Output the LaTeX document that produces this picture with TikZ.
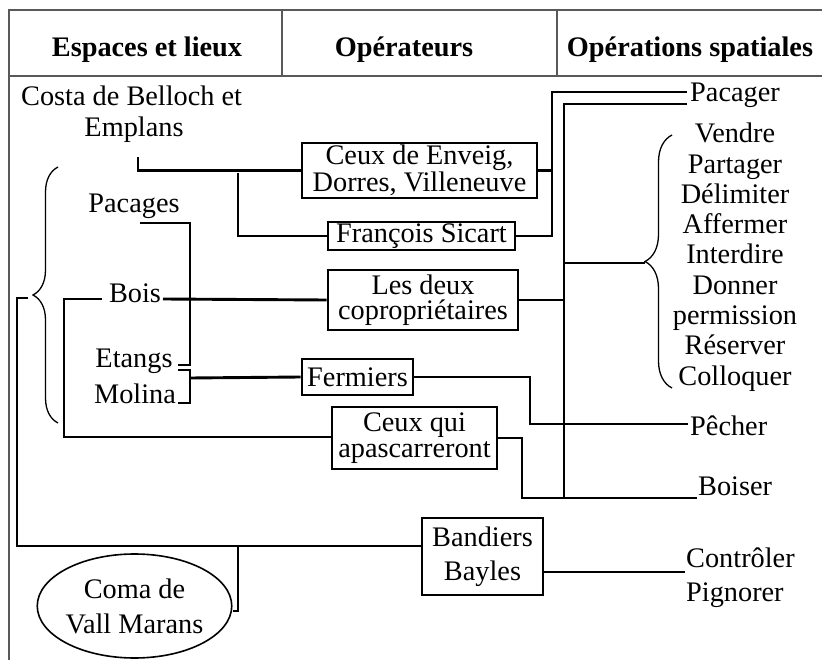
\documentclass[tikz,border=0pt]{standalone}
\usepackage{fontspec}
\setmainfont{Liberation Serif}
\usetikzlibrary{decorations.pathreplacing,shapes.geometric}
\begin{document}
\begin{tikzpicture}[x=1pt,y=-1pt,
  conn/.style={line width=2.9pt},
  box/.style={draw, line width=2.9pt, inner sep=0pt, align=center, font=\fontsize{28.3}{25.5}\selectfont},
  lbl/.style={inner sep=0pt, font=\fontsize{28.3}{28}\selectfont},
  hdr/.style={inner sep=0pt, anchor=base, font=\fontsize{28.3}{28}\selectfont\bfseries},
  rulel/.style={draw=black!65, line width=1.6pt},
  brc/.style={decorate, decoration={brace, amplitude=#1}, line width=1.3pt}]
\useasboundingbox (0,0) rectangle (822,660);
\fill[white] (0,0) rectangle (822,660);
% table frame
\draw[rulel] (822,10) -- (9,10) -- (9,660);
\draw[rulel] (9,76) -- (822,76);
\draw[rulel] (282,10) -- (282,76);
\draw[rulel] (557,10) -- (557,76);
\node[hdr] (h1) at (147,57) {Espaces et lieux};
\node[hdr] (h2) at (404,57) {Opérateurs};
\node[hdr] (h3) at (690,57) {Opérations spatiales};
% left labels
\node[lbl, anchor=base west] (costa) at (21,106) {Costa de Belloch et};
\node[lbl, anchor=base] (emplans) at (134,137) {Emplans};
\node[lbl, anchor=base] (pacages) at (134,213) {Pacages};
\node[lbl, anchor=base] (bois) at (135,303) {Bois};
\node[lbl, anchor=base] (etangs) at (134,367) {Etangs};
\node[lbl, anchor=base] (molina) at (135,403) {Molina};
% boxes
\node[box, minimum width=235, minimum height=55] (ceux) at (419.5,170.5) {Ceux de Enveig,\\Dorres, Villeneuve};
\node[box, minimum width=187, minimum height=28] (fs) at (421.5,236) {François Sicart};
\node[box, minimum width=190, minimum height=60] (les) at (423,300) {Les deux\\copropriétaires};
\node[box, minimum width=111, minimum height=36] (ferm) at (357.5,377) {Fermiers};
\node[box, minimum width=165, minimum height=62] (cqa) at (414.5,438) {Ceux qui\\apascarreront};
\node[box, minimum width=121, minimum height=77, font=\fontsize{28.3}{34}\selectfont] (band) at (482.5,556.5) {Bandiers\\Bayles};
\node[ellipse, draw, line width=1.6pt, inner sep=0pt, minimum width=183, minimum height=104, align=center, font=\fontsize{28.3}{35}\selectfont] (coma) at (134.5,606) {Coma de\\Vall Marans};
% right labels
\node[lbl, anchor=base west] (pacager) at (690,102) {Pacager};
\node[lbl, anchor=base] (v1) at (735,143) {Vendre};
\node[lbl, anchor=base] (v2) at (735,173.25) {Partager};
\node[lbl, anchor=base] (v3) at (735,203.5) {Délimiter};
\node[lbl, anchor=base] (v4) at (735,233.75) {Affermer};
\node[lbl, anchor=base] (v5) at (735,264) {Interdire};
\node[lbl, anchor=base] (v6) at (735,294.25) {Donner};
\node[lbl, anchor=base] (v7) at (735,324.5) {permission};
\node[lbl, anchor=base] (v8) at (735,354.75) {Réserver};
\node[lbl, anchor=base] (v9) at (735,385) {Colloquer};
\node[lbl, anchor=base west] (pecher) at (690,435) {Pêcher};
\node[lbl, anchor=base west] (boiser) at (698,495) {Boiser};
\node[lbl, anchor=base west] (contr) at (686,567) {Contrôler};
\node[lbl, anchor=base west] (pign) at (686,601) {Pignorer};
% coordinates
\coordinate (e0) at (138,157);
\coordinate (j1) at (238,173);
\coordinate (p1) at (687,92);
\coordinate (p2) at (687,104);
\coordinate (rb) at (645,263);
\coordinate (pe) at (688,424);
\coordinate (bo) at (697,498);
\coordinate (boisE) at (163,299);
\coordinate (boisW) at (102,299);
\coordinate (pacS) at (140,223);
\coordinate (etE) at (178,365);
\coordinate (etE2) at (178,370);
\coordinate (moE) at (178,403);
\coordinate (lb) at (28,298);
\coordinate (ct) at (685,572);
% connectors
\draw[conn] (e0) |- (ceux.west);
\draw[conn] (j1) |- (fs.west);
\draw[conn] (ceux.east) -- (ceux.east -| 552,0);
\draw[conn] (fs.east) -| (552,92) -- (p1);
\draw[conn] (p2) -| (564,498);
\draw[conn] (564,263) -- (rb);
\draw[conn] (les.east) -- (les.east -| 564,0);
\draw[conn] (ferm.east) -| (530,424) -- (pe);
\draw[conn] (cqa.east) -| (522,498) -- (bo);
\draw[conn] (boisE) -- (les.west);
\draw[conn] (boisW) -| (64,437) -- (cqa.west |- 0,437);
\draw[conn] (pacS) -| (190,365) -- (etE);
\draw[conn] (etE2) -| (190,403) -- (moE);
\draw[conn] (190,378) -- (ferm.west);
\draw[conn] (lb) -| (17,546) -- (band.west |- 0,546);
\draw[conn] (238,546) |- (coma.east |- 0,611);
\draw[conn] (band.east |- 0,572) -- (ct);
% braces
\draw[brc=25] (58,423) -- (58,167);
\draw[brc=27] (672,388) -- (672,135);
\end{tikzpicture}
\end{document}
